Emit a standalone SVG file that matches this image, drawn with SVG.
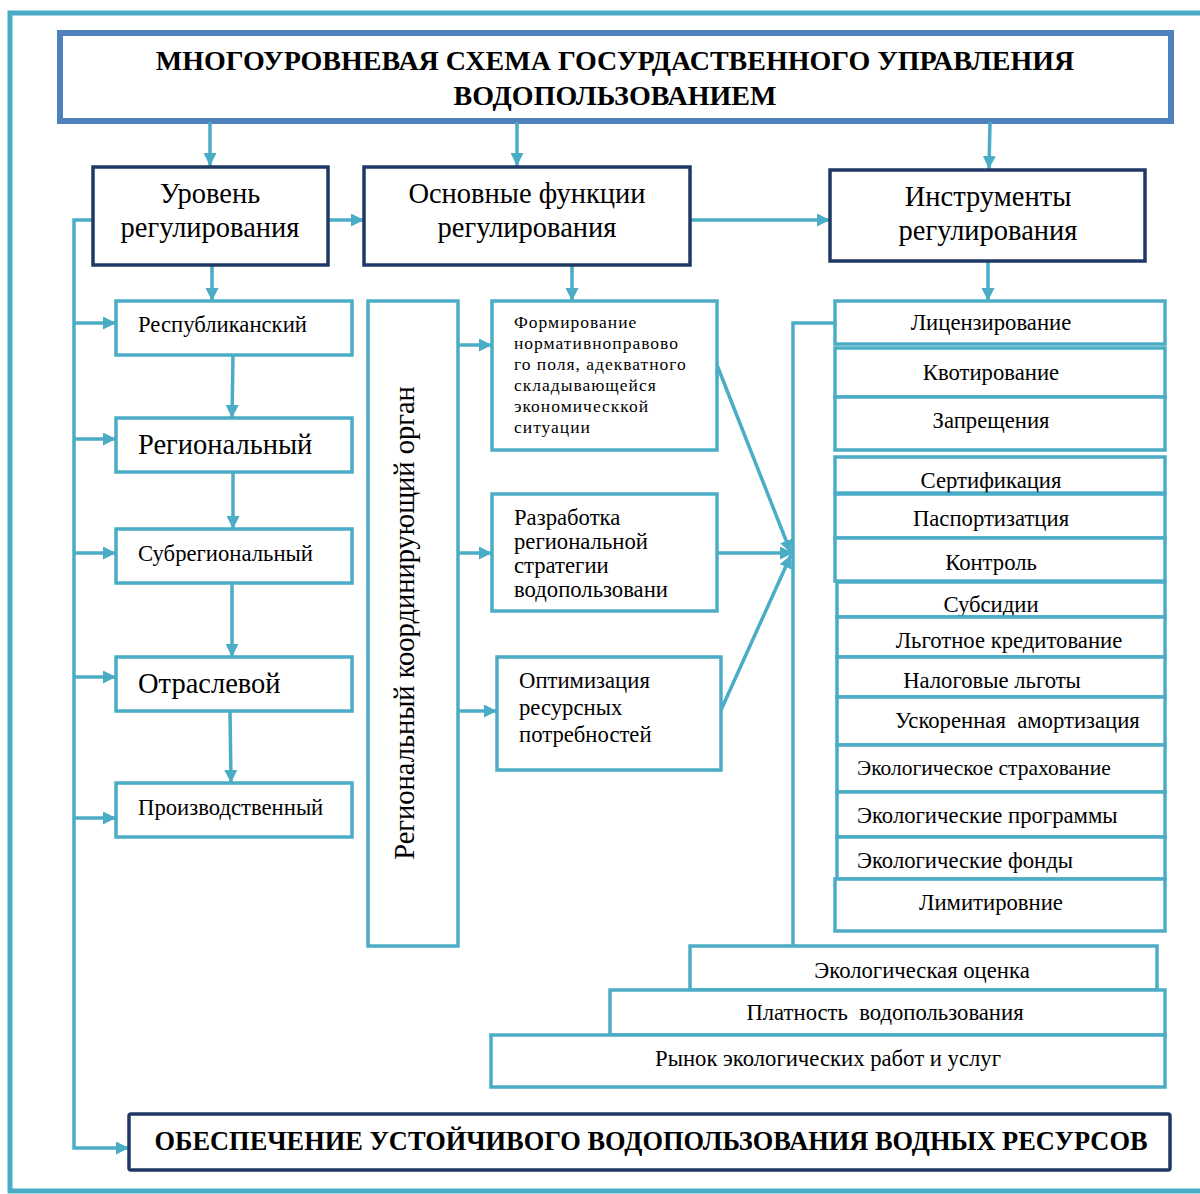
<svg xmlns="http://www.w3.org/2000/svg" width="1200" height="1194" viewBox="0 0 1200 1194">
<style>
.aq{fill:#fff;stroke:#4BACC6;stroke-width:3.5}
.dk{fill:#fff;stroke:#1F3864;stroke-width:3.5}
.c{fill:none;stroke:#4BACC6;stroke-width:3.5}
.ca{fill:none;stroke:#4BACC6;stroke-width:3.5;marker-end:url(#ah)}
text{font-family:"Liberation Serif","Times New Roman",serif;fill:#000}
.m{text-anchor:middle}
.b{font-weight:bold}
.h{font-size:28.5px}
.s{font-size:22.7px}
</style>
<defs>
<marker id="ah" viewBox="0 0 10 10" refX="10" refY="5" markerWidth="13" markerHeight="13" markerUnits="userSpaceOnUse" orient="auto"><path d="M0,0 L10,5 L0,10 z" fill="#4BACC6"/></marker>
</defs>
<rect x="10" y="13" width="1205" height="1178" fill="none" stroke="#4BACC6" stroke-width="5"/>

<g id="title"><rect x="60" y="33" width="1111" height="88" fill="#fff" stroke="#4F81BD" stroke-width="6"/>
<text class="m b" x="615" y="70" font-size="28">МНОГОУРОВНЕВАЯ СХЕМА ГОСУРДАСТВЕННОГО УПРАВЛЕНИЯ</text>
<text class="m b" x="615" y="105" font-size="28">ВОДОПОЛЬЗОВАНИЕМ</text></g>

<g id="connectors">
<path class="ca" d="M210,122 L210,166"/>
<path class="ca" d="M517,122 L517,166"/>
<path class="ca" d="M990,122 L989,169"/>
<path class="ca" d="M328,220 L364,220"/>
<path class="ca" d="M690,220 L830,220"/>
<path class="ca" d="M212,265 L212,301"/>
<path class="ca" d="M572,265 L572,301"/>
<path class="ca" d="M988,261 L988,301"/>
<path class="ca" d="M233,355 L232,418"/>
<path class="ca" d="M233,472 L233,529"/>
<path class="ca" d="M232,583 L232,657"/>
<path class="ca" d="M230,711 L231,783"/>
<path class="ca" d="M93,220 L74,220 L74,1148 L129,1148"/>
<path class="ca" d="M74,323 L116,323"/>
<path class="ca" d="M74,439 L116,439"/>
<path class="ca" d="M74,553 L116,553"/>
<path class="ca" d="M74,677 L116,677"/>
<path class="ca" d="M74,818 L116,818"/>
<path class="ca" d="M458,345 L492,345"/>
<path class="ca" d="M458,553 L492,553"/>
<path class="ca" d="M458,711 L497,711"/>
<path class="ca" d="M717,365 L791,553"/>
<path class="ca" d="M717,553 L793,553"/>
<path class="ca" d="M721,710 L791,555"/>
<path class="c" d="M835,323 L793,323 L793,946"/>
</g>

<g id="n-uroven"><rect class="dk" x="93" y="167" width="235" height="98"/>
<text class="m h" x="210" y="203">Уровень</text>
<text class="m h" x="210" y="237">регулирования</text></g>
<g id="n-funkcii"><rect class="dk" x="364" y="167" width="326" height="98"/>
<text class="m h" x="527" y="203">Основные функции</text>
<text class="m h" x="527" y="237">регулирования</text></g>
<g id="n-instr"><rect class="dk" x="830" y="170" width="315" height="91"/>
<text class="m h" x="988" y="206">Инструменты</text>
<text class="m h" x="988" y="240">регулирования</text></g>

<g id="n-resp"><rect class="aq" x="116" y="301" width="236" height="54"/><text class="s" x="138" y="332">Республиканский</text></g>
<g id="n-reg"><rect class="aq" x="116" y="418" width="236" height="54"/><text class="h" x="138" y="454">Региональный</text></g>
<g id="n-subreg"><rect class="aq" x="116" y="529" width="236" height="54"/><text class="s" x="138" y="561">Субрегиональный</text></g>
<g id="n-otrasl"><rect class="aq" x="116" y="657" width="236" height="54"/><text class="h" x="138" y="693">Отраслевой</text></g>
<g id="n-proizv"><rect class="aq" x="116" y="783" width="236" height="54"/><text class="s" x="138" y="815">Производственный</text></g>

<g id="n-organ"><rect class="aq" x="368" y="301" width="90" height="645"/>
<text class="m h" transform="translate(414,623) rotate(-90)">Региональный координирующий орган</text></g>

<g id="n-form"><rect class="aq" x="492" y="301" width="225" height="149"/>
<g font-size="17.5" letter-spacing="1">
<text x="514" y="328">Формирование</text>
<text x="514" y="349">нормативноправово</text>
<text x="514" y="370" xml:space="preserve">го поля, адекватного</text>
<text x="514" y="391">складывающейся</text>
<text x="514" y="412">экономическкой</text>
<text x="514" y="433">ситуации</text></g></g>
<g id="n-razr"><rect class="aq" x="492" y="494" width="225" height="117"/>
<text class="s" x="514" y="525">Разработка</text>
<text class="s" x="514" y="549">региональной</text>
<text class="s" x="514" y="573">стратегии</text>
<text class="s" x="514" y="597">водопользовани</text></g>
<g id="n-optim"><rect class="aq" x="497" y="657" width="224" height="113"/>
<text class="s" x="519" y="688">Оптимизация</text>
<text class="s" x="519" y="715">ресурсных</text>
<text class="s" x="519" y="742">потребностей</text></g>

<g id="n-lic"><rect class="aq" x="835" y="301" width="330" height="43"/><text class="m s" x="991" y="330">Лицензирование</text></g>
<g id="n-kvot"><rect class="aq" x="835" y="348" width="330" height="49"/><text class="m s" x="991" y="380">Квотирование</text></g>
<g id="n-zapr"><rect class="aq" x="835" y="397" width="330" height="53"/><text class="m s" x="991" y="428">Запрещения</text></g>
<g id="n-sert"><rect class="aq" x="835" y="457" width="330" height="36"/><text class="m s" x="991" y="488">Сертификация</text></g>
<g id="n-pasp"><rect class="aq" x="835" y="494" width="330" height="44"/><text class="m s" x="991" y="526">Паспортизатция</text></g>
<g id="n-kontr"><rect class="aq" x="835" y="538" width="330" height="43"/><text class="m s" x="991" y="570">Контроль</text></g>
<g id="n-subs"><rect class="aq" x="837" y="582" width="328" height="35"/><text class="m s" x="991" y="612">Субсидии</text></g>
<g id="n-lgot"><rect class="aq" x="837" y="617" width="328" height="40"/><text class="m s" x="1009" y="648">Льготное кредитование</text></g>
<g id="n-nalog"><rect class="aq" x="837" y="657" width="328" height="40"/><text class="m s" x="992" y="688">Налоговые льготы</text></g>
<g id="n-uskor"><rect class="aq" x="837" y="697" width="328" height="48"/><text class="s" x="895" y="728" xml:space="preserve">Ускоренная  амортизация</text></g>
<g id="n-strah"><rect class="aq" x="837" y="745" width="328" height="47"/><text x="857" y="775" font-size="21.5">Экологическое страхование</text></g>
<g id="n-progr"><rect class="aq" x="837" y="792" width="328" height="45"/><text class="s" x="857" y="823">Экологические программы</text></g>
<g id="n-fond"><rect class="aq" x="837" y="837" width="328" height="42"/><text class="s" x="857" y="868">Экологические фонды</text></g>
<g id="n-limit"><rect class="aq" x="835" y="879" width="330" height="52"/><text class="m s" x="991" y="910">Лимитировние</text></g>

<g id="n-ocenka"><rect class="aq" x="690" y="946" width="467" height="44"/><text class="m s" x="922" y="978">Экологическая оценка</text></g>
<g id="n-platn"><rect class="aq" x="610" y="990" width="555" height="45"/><text class="m s" x="885" y="1020" xml:space="preserve">Платность  водопользования</text></g>
<g id="n-rynok"><rect class="aq" x="491" y="1035" width="674" height="52"/><text class="m s" x="828" y="1066">Рынок экологических работ и услуг</text></g>

<g id="n-final"><rect class="dk" x="129" y="1114" width="1041" height="56" rx="2"/>
<text class="m b" x="651" y="1150" font-size="26.4">ОБЕСПЕЧЕНИЕ УСТОЙЧИВОГО ВОДОПОЛЬЗОВАНИЯ ВОДНЫХ РЕСУРСОВ</text></g>
</svg>
